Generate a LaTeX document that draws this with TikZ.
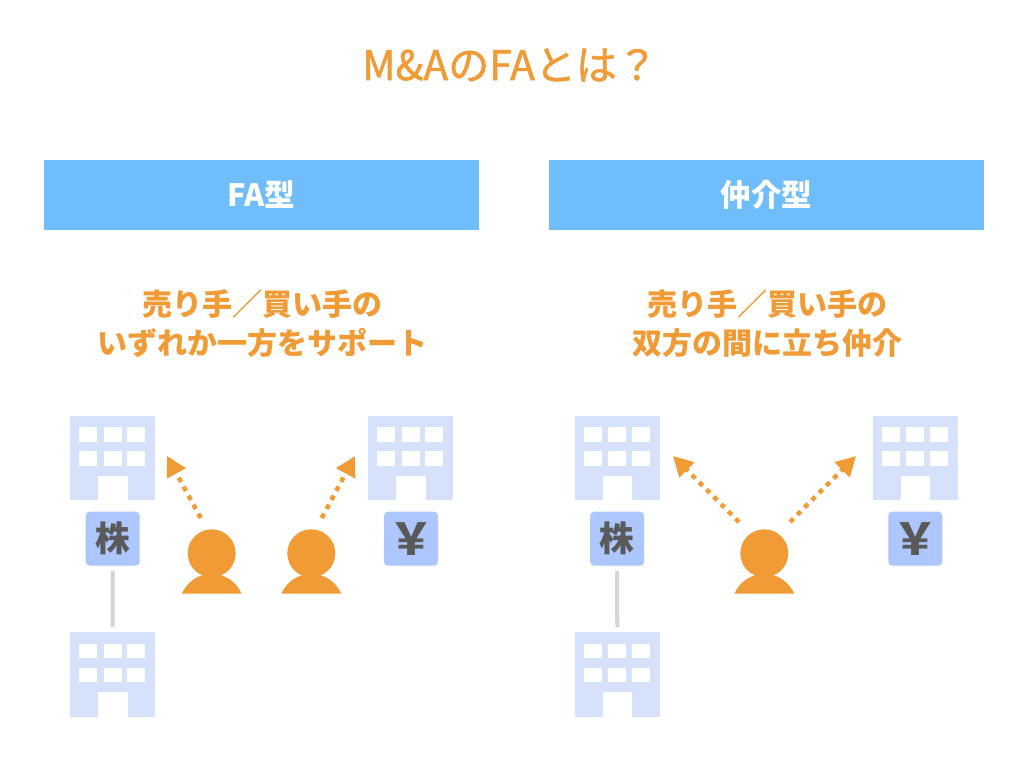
\documentclass[tikz,border=0pt]{standalone}
\usepackage{fontspec}
\setmainfont{Noto Sans CJK JP}
\newfontfamily\medfont[FakeBold=1.2]{Noto Sans CJK JP}
\usetikzlibrary{arrows.meta}
\definecolor{orangeT}{HTML}{F09B36}
\definecolor{banner}{HTML}{70BDFB}
\definecolor{bldg}{HTML}{D6E2FC}
\definecolor{chipc}{HTML}{ADC6FC}
\definecolor{chiptext}{HTML}{595959}
\definecolor{linegray}{HTML}{D5D5D5}
\tikzset{
  x=0.75pt,y=-0.75pt,
  bannerbox/.style={fill=banner,minimum width=326.25pt,minimum height=52.5pt,inner sep=0pt,text=white,font=\fontsize{23pt}{27pt}\selectfont\bfseries},
  titletext/.style={text=orangeT,inner sep=0pt,font=\medfont\fontsize{30.7pt}{36pt}\selectfont},
  subtext/.style={text=orangeT,inner sep=0pt,align=center,font=\fontsize{22.5pt}{29.25pt}\selectfont\bfseries},
  bldgbox/.style={fill=bldg,minimum size=63.4pt,inner sep=0pt},
  win/.style={fill=white},
  chipbox/.style={fill=chipc,rounded corners=3pt,minimum size=40.5pt,inner sep=0pt,text=chiptext,font=\fontsize{26pt}{30pt}\selectfont\bfseries},
  yenbox/.style={chipbox,font=\fontsize{33pt}{36pt}\selectfont\bfseries},
  personfill/.style={fill=orangeT},
  support/.style={draw=orangeT,line width=3.4pt,dash pattern=on 3.7pt off 4pt,-{Triangle[length=14.8pt,width=15.4pt,fill=orangeT]}},
  link/.style={draw=linegray,line width=3pt,shorten >=3.75pt,shorten <=3.75pt},
}
\newcommand{\building}[3]{%
  \node[bldgbox] (#1) at (#2+42.25,#3+42) {};
  \foreach \wx in {8.8,33.2,56.8}{\foreach \wy in {11,35}{
    \fill[win] (#2+\wx,#3+\wy) rectangle ++(18,14.7);}}
  \fill[win] (#2+27.5,#3+59.7) rectangle (#2+57,#3+84.5);
}
\newcommand{\person}[3]{%
  \fill[personfill] (#2-30,593.7) .. controls (#2-24,581) and (#2-13,574) .. (#2,574) .. controls (#2+13,574) and (#2+24,581) .. (#2+30,593.7) -- cycle;
  \node[personfill,circle,minimum size=36pt,inner sep=0pt] (#1) at (#2,#3) {};
}
\begin{document}
\begin{tikzpicture}
\useasboundingbox[fill=white] (0,0) rectangle (1024,768);
\node[titletext] (title) at (510,65) {M\&AのFAとは？};
\node[bannerbox] (bannerA) at (261.5,195) {FA型};
\node[bannerbox] (bannerB) at (766.5,195) {仲介型};
\node[subtext] (subA) at (262,324) {売り手／買い手の\\いずれか一方をサポート};
\node[subtext] (subB) at (767,324) {売り手／買い手の\\双方の間に立ち仲介};

\building{a1}{70.5}{416}
\building{a2}{368.5}{416}
\building{a3}{70.5}{632.5}
\building{b1}{575}{416}
\building{b2}{873}{416}
\building{b3}{575}{632.5}

\node[chipbox] (chipA1) at (112.7,538.7) {株};
\node[yenbox] (chipA2) at (411,538.7) {￥};
\node[chipbox] (chipB1) at (617.2,538.7) {株};
\node[yenbox] (chipB2) at (915.3,538.7) {￥};
\draw[link] (chipA1.south) -- (a3.north);
\draw[link] (chipB1.south) -- (b3.north);

\person{pa}{211.7}{553.3}
\person{pb}{311.3}{553.3}
\person{pc}{764.3}{553.3}

\coordinate (s1) at (200.7,518);
\coordinate (t1) at (167,456);
\coordinate (s2) at (321.7,518);
\coordinate (t2) at (355,456);
\coordinate (s3) at (739,522);
\coordinate (t3) at (673,456);
\coordinate (s4) at (790,522);
\coordinate (t4) at (856,456);
\draw[support] (s1) -- (t1);
\draw[support] (s2) -- (t2);
\draw[support] (s3) -- (t3);
\draw[support] (s4) -- (t4);
\end{tikzpicture}
\end{document}
